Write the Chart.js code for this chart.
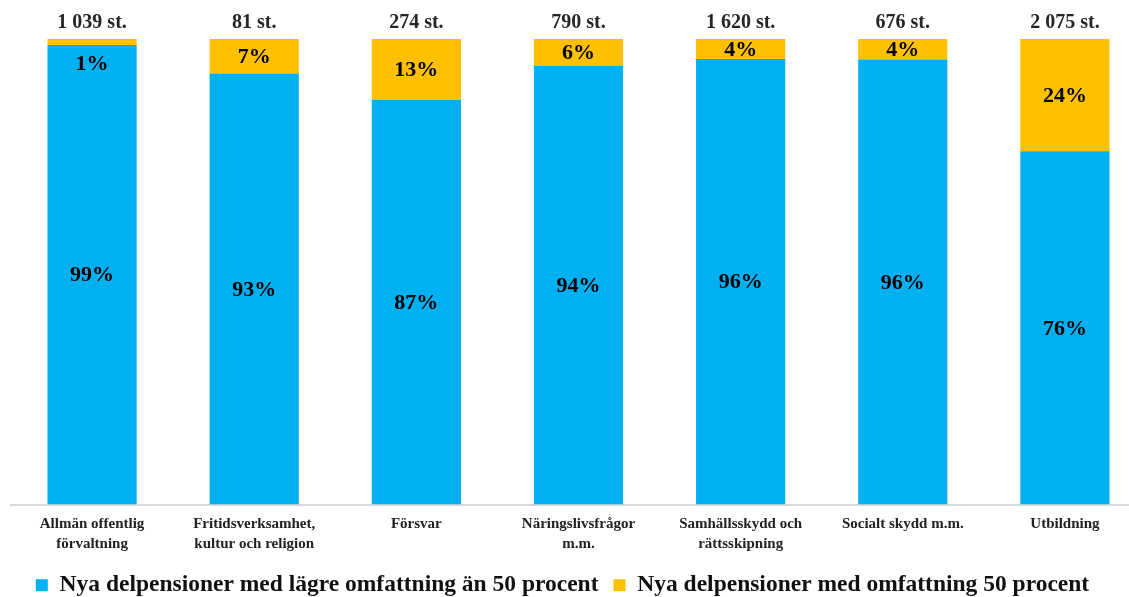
<!DOCTYPE html>
<html>
<head>
<meta charset="utf-8">
<script src="https://cdn.jsdelivr.net/npm/chart.js@4.4.1/dist/chart.umd.min.js"></script>
<style>
    html, body { margin: 0; padding: 0; background: #fff; overflow: hidden; }
    #wrap { position: relative; width: 1146px; height: 597px; }
</style>
</head>
<body>
<div id="wrap"><canvas id="chart"></canvas></div>
<script>
/* Nya delpensioner per verksamhetsområde */

var categories = [
    ['Allmän offentlig', 'förvaltning'],
    ['Fritidsverksamhet,', 'kultur och religion'],
    'Försvar',
    ['Näringslivsfrågor', 'm.m.'],
    ['Samhällsskydd och', 'rättsskipning'],
    'Socialt skydd m.m.',
    'Utbildning'
];
var totals      = ['1 039 st.', '81 st.', '274 st.', '790 st.', '1 620 st.', '676 st.', '2 075 st.'];
var lagreAndel  = [98.7, 92.6, 86.9, 94.2, 95.7, 95.6, 75.9];
var femtioAndel = [1.3, 7.4, 13.1, 5.8, 4.3, 4.4, 24.1];

var FONT = '"Liberation Serif", "Times New Roman", serif';

// Draws the percent in each segment and the count above each bar.
var labelPlugin = {
    id: 'dcLabels',
    afterLayout: function (chart) {
        // legend sits a bit left of the canvas centre in the original
        if (chart.legend) {
            chart.legend.left -= 16;
            chart.legend.right -= 16;
        }
    },
    afterDatasetsDraw: function (chart) {
        var ctx = chart.ctx;
        ctx.save();
        ctx.textAlign = 'center';
        ctx.textBaseline = 'middle';
        ctx.font = 'bold 22px ' + FONT;
        ctx.fillStyle = '#000';
        chart.data.datasets.forEach(function (ds, di) {
            var meta = chart.getDatasetMeta(di);
            meta.data.forEach(function (bar, i) {
                var top = Math.min(bar.y, bar.base);
                var h = Math.abs(bar.base - bar.y);
                // tiny segment: put the label just under it
                var y = h < 12 ? Math.max(bar.y, bar.base) + 19 : top + h / 2 + 1;
                ctx.fillText(Math.round(ds.data[i]) + '%', bar.x, y);
            });
        });
        var last = chart.getDatasetMeta(chart.data.datasets.length - 1);
        ctx.font = 'bold 20px ' + FONT;
        ctx.fillStyle = '#262626';
        last.data.forEach(function (bar, i) {
            ctx.fillText(totals[i], bar.x, bar.y - 16);
        });
        ctx.restore();
    }
};

new Chart(document.getElementById('chart'), {
    type: 'bar',
    data: {
        labels: categories,
        datasets: [
            {
                label: 'Nya delpensioner med lägre omfattning än 50 procent',
                data: lagreAndel,
                backgroundColor: '#00B0F0'
            },
            {
                label: 'Nya delpensioner med omfattning 50 procent',
                data: femtioAndel,
                backgroundColor: '#FFC000'
            }
        ]
    },
    options: {
        responsive: true,
        maintainAspectRatio: false,
        animation: false,
        barPercentage: 0.55,
        categoryPercentage: 1,
        layout: { padding: { left: 11, right: 0, top: 39, bottom: -10 } },
        plugins: {
            legend: {
                position: 'bottom',
                labels: {
                    boxWidth: 12,
                    boxHeight: 12,
                    padding: 15,
                    color: '#111',
                    font: { family: FONT, size: 23.5, weight: 'bold' }
                }
            },
            tooltip: { enabled: false }
        },
        scales: {
            x: {
                stacked: true,
                grid: { display: false },
                border: { color: '#d9d9d9', width: 2 },
                afterFit: function (scale) {
                    scale.height += 3;
                },
                ticks: {
                    color: '#222',
                    padding: 2,
                    maxRotation: 0,
                    autoSkip: false,
                    font: { family: FONT, size: 15, weight: 'bold', lineHeight: 1.3 }
                }
            },
            y: {
                stacked: true,
                display: false,
                min: 0,
                max: 100
            }
        }
    },
    plugins: [labelPlugin]
});
</script>
</body>
</html>
